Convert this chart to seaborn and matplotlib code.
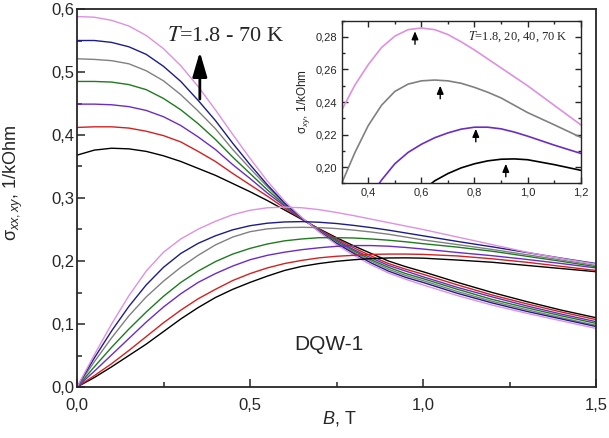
import numpy as np
import pandas as pd
import seaborn as sns
import matplotlib
matplotlib.use('Agg')
import matplotlib.pyplot as plt
from matplotlib.ticker import MultipleLocator, FuncFormatter

# magnetic field grid, T
B = [0, 0.05, 0.1, 0.15, 0.2, 0.25, 0.3, 0.35, 0.4, 0.45, 0.5, 0.55, 0.6, 0.65, 0.7,
     0.75, 0.8, 0.85, 0.9, 0.95, 1.0, 1.1, 1.2, 1.3, 1.4, 1.5]

# curves, from lowest T (black, 1.8 K) to highest T (pink, 70 K)
curves = ['black', 'red', 'purple', 'green', 'gray', 'navy', 'pink']
colors = ['#000000', '#d42020', '#6a2cc8', '#1e7b1e', '#808080', '#1c1c8a', '#df90df']

# sigma_xx, 1/kOhm
xx_black = [0.368, 0.376, 0.379, 0.378, 0.374, 0.367, 0.358, 0.347, 0.336, 0.323, 0.310, 0.296, 0.281,
            0.266, 0.251, 0.237, 0.224, 0.212, 0.200, 0.191, 0.183, 0.166, 0.150, 0.1355, 0.122, 0.110]
xx_red = [0.412, 0.413, 0.413, 0.411, 0.406, 0.399, 0.389, 0.374, 0.358, 0.339, 0.321, 0.303, 0.284,
          0.267, 0.250, 0.235, 0.221, 0.208, 0.196, 0.187, 0.179, 0.162, 0.146, 0.132, 0.119, 0.107]
xx_purple = [0.449, 0.449, 0.448, 0.445, 0.439, 0.429, 0.415, 0.397, 0.377, 0.353, 0.331, 0.308, 0.287,
             0.267, 0.249, 0.233, 0.218, 0.205, 0.193, 0.184, 0.175, 0.158, 0.143, 0.1287, 0.1157, 0.1037]
xx_green = [0.485, 0.485, 0.484, 0.480, 0.472, 0.458, 0.440, 0.418, 0.393, 0.365, 0.339, 0.313, 0.289,
            0.268, 0.248, 0.231, 0.216, 0.202, 0.190, 0.180, 0.172, 0.155, 0.139, 0.1257, 0.113, 0.101]
xx_gray = [0.521, 0.520, 0.518, 0.513, 0.502, 0.486, 0.464, 0.438, 0.410, 0.377, 0.347, 0.318, 0.291,
           0.268, 0.248, 0.229, 0.214, 0.200, 0.187, 0.177, 0.169, 0.1515, 0.136, 0.1227, 0.110, 0.098]
xx_navy = [0.550, 0.550, 0.547, 0.540, 0.528, 0.509, 0.485, 0.455, 0.423, 0.387, 0.353, 0.321, 0.292,
           0.268, 0.247, 0.228, 0.212, 0.197, 0.184, 0.174, 0.166, 0.1486, 0.1334, 0.120, 0.108, 0.096]
xx_pink = [0.588, 0.587, 0.582, 0.573, 0.558, 0.537, 0.510, 0.477, 0.440, 0.401, 0.363, 0.327, 0.295,
           0.269, 0.246, 0.226, 0.209, 0.194, 0.181, 0.171, 0.162, 0.145, 0.130, 0.117, 0.105, 0.093]

# sigma_xy, 1/kOhm
xy_black = [0, 0.015, 0.032, 0.050, 0.068, 0.088, 0.108, 0.126, 0.142, 0.155, 0.166, 0.176, 0.185,
            0.1915, 0.196, 0.1995, 0.202, 0.2038, 0.2048, 0.205, 0.2045, 0.2015, 0.198, 0.193, 0.188, 0.183]
xy_red = [0, 0.018, 0.037, 0.058, 0.080, 0.102, 0.122, 0.140, 0.155, 0.169, 0.180, 0.189, 0.196,
          0.201, 0.205, 0.2075, 0.209, 0.2105, 0.211, 0.211, 0.2105, 0.208, 0.2035, 0.198, 0.1915, 0.185]
xy_purple = [0, 0.025, 0.051, 0.077, 0.103, 0.127, 0.148, 0.166, 0.180, 0.192, 0.202, 0.209, 0.214,
             0.218, 0.221, 0.2233, 0.2245, 0.2245, 0.2235, 0.2215, 0.219, 0.2135, 0.2084, 0.2025, 0.196, 0.189]
xy_green = [0, 0.032, 0.063, 0.092, 0.119, 0.144, 0.166, 0.184, 0.199, 0.211, 0.220, 0.227, 0.232,
            0.235, 0.237, 0.237, 0.2365, 0.235, 0.233, 0.2305, 0.2275, 0.222, 0.2155, 0.2075, 0.1995, 0.191]
xy_gray = [0, 0.040, 0.078, 0.113, 0.143, 0.168, 0.190, 0.209, 0.2255, 0.238, 0.2465, 0.251, 0.253,
           0.2535, 0.253, 0.2515, 0.249, 0.246, 0.2425, 0.238, 0.2335, 0.226, 0.2183, 0.210, 0.2015, 0.193]
xy_navy = [0, 0.046, 0.089, 0.128, 0.162, 0.190, 0.212, 0.228, 0.240, 0.2495, 0.256, 0.260, 0.262,
           0.2625, 0.2615, 0.2595, 0.2565, 0.253, 0.249, 0.2445, 0.240, 0.231, 0.2225, 0.2135, 0.2045, 0.196]
xy_pink = [0, 0.051, 0.100, 0.145, 0.184, 0.214, 0.235, 0.2505, 0.263, 0.2735, 0.2805, 0.2845, 0.2855,
           0.2845, 0.2815, 0.277, 0.272, 0.2665, 0.261, 0.2555, 0.250, 0.238, 0.226, 0.214, 0.204, 0.195]

xx_all = [xx_black, xx_red, xx_purple, xx_green, xx_gray, xx_navy, xx_pink]
xy_all = [xy_black, xy_red, xy_purple, xy_green, xy_gray, xy_navy, xy_pink]
inset_curves = ['black', 'purple', 'gray', 'pink']   # T = 1.8, 20, 40, 70 K

df_xx = pd.concat([pd.DataFrame({'B': B, 's': v, 'curve': c}) for c, v in zip(curves, xx_all)])
df_xy = pd.concat([pd.DataFrame({'B': B, 's': v, 'curve': c}) for c, v in zip(curves, xy_all)])
palette = dict(zip(curves, colors))

sns.set_style('ticks')
plt.rcParams['font.family'] = ['Liberation Sans', 'DejaVu Sans']
plt.rcParams['mathtext.fontset'] = 'custom'
plt.rcParams['mathtext.rm'] = 'Liberation Sans'
plt.rcParams['mathtext.it'] = 'Liberation Sans:italic'

comma1 = FuncFormatter(lambda v, p: f'{v:.1f}'.replace('.', ','))
comma2 = FuncFormatter(lambda v, p: f'{v:.2f}'.replace('.', ','))

W, H = 609, 438
fig = plt.figure(figsize=(W / 100, H / 100), dpi=100)
ax = fig.add_axes([77 / W, (H - 387) / H, (596 - 77) / W, (387 - 9) / H])

for df in (df_xx, df_xy):
    sns.lineplot(data=df, x='B', y='s', hue='curve', hue_order=curves, palette=palette,
                 estimator=None, sort=False, lw=1.0, legend=False, ax=ax)

ax.set_xlim(0, 1.5)
ax.set_ylim(0, 0.6)
ax.xaxis.set_major_locator(MultipleLocator(0.5))
ax.xaxis.set_minor_locator(MultipleLocator(0.25))
ax.yaxis.set_major_locator(MultipleLocator(0.1))
ax.yaxis.set_minor_locator(MultipleLocator(0.05))
ax.xaxis.set_major_formatter(comma1)
ax.yaxis.set_major_formatter(comma1)
ax.tick_params(which='both', direction='in', width=1.1, labelsize=12)
ax.tick_params(which='major', length=6)
ax.tick_params(which='minor', length=3.5)
ax.tick_params(axis='x', pad=8)
ax.tick_params(axis='y', pad=2)
for s in ax.spines.values():
    s.set_linewidth(1.3)

ax.set_xlabel(r'$B$, T', fontsize=13)
ax.set_ylabel(r'$\mathrm{\sigma}_{xx,xy}$, 1/kOhm', fontsize=13)
ax.xaxis.set_label_coords(0.505, -0.058)
ax.yaxis.set_label_coords(-0.10, 0.54)

ax.text(0.728, 0.067, 'DQW-1', fontsize=15, ha='center', va='center')
ax.text(0.26, 0.557, r'$T$=1.8 - 70 K', fontsize=16, ha='left', va='center',
        family='Liberation Serif', math_fontfamily='stix')
ax.annotate('', xy=(0.355, 0.532), xytext=(0.355, 0.457),
            arrowprops=dict(arrowstyle='-|>,head_length=0.75,head_width=0.22',
                            mutation_scale=20, lw=2, color='k', shrinkA=0, shrinkB=0))

# inset: sigma_xy near the maxima
axin = fig.add_axes([341.7 / W, (H - 183.3) / H, (580.7 - 341.7) / W, (183.3 - 20.7) / H])
sns.lineplot(data=df_xy[df_xy['curve'].isin(inset_curves)], x='B', y='s', hue='curve',
             hue_order=inset_curves, palette=palette, estimator=None, sort=False,
             lw=1.2, legend=False, ax=axin)
axin.set_xlim(0.3, 1.2)
axin.set_ylim(0.19, 0.29)
axin.xaxis.set_major_locator(MultipleLocator(0.2))
axin.xaxis.set_minor_locator(MultipleLocator(0.1))
axin.yaxis.set_major_locator(MultipleLocator(0.02))
axin.yaxis.set_minor_locator(MultipleLocator(0.01))
axin.xaxis.set_major_formatter(comma1)
axin.yaxis.set_major_formatter(comma2)
axin.tick_params(which='both', direction='in', top=True, right=True, width=1, labelsize=8, pad=3)
axin.tick_params(which='major', length=4)
axin.tick_params(which='minor', length=2.5)
for s in axin.spines.values():
    s.set_linewidth(1.0)
axin.set_xlabel('')
axin.set_ylabel(r'$\mathrm{\sigma}_{xy}$, 1/kOhm', fontsize=8.5, labelpad=3)
axin.text(1.152, 0.2804, r'$T$=1.8, 20, 40, 70 K', fontsize=9, ha='right', va='center',
          family='Liberation Serif', math_fontfamily='stix')
for xa, y0, y1 in [(0.576, 0.2755, 0.2835), (0.671, 0.2420, 0.2500),
                   (0.805, 0.2155, 0.2235), (0.918, 0.1940, 0.2020)]:
    axin.annotate('', xy=(xa, y1), xytext=(xa, y0),
                  arrowprops=dict(arrowstyle='-|>,head_length=0.6,head_width=0.25',
                                  mutation_scale=8, lw=1.0, color='k', shrinkA=0, shrinkB=0))

fig.savefig('out.png', dpi=100)
